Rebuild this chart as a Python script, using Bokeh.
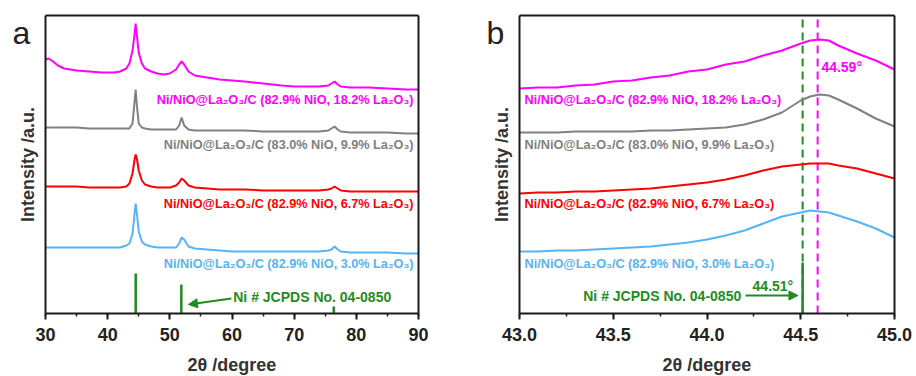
from bokeh.plotting import figure
from bokeh.layouts import row
from bokeh.models import (Label, Arrow, NormalHead, SingleIntervalTicker, FixedTicker,
                          PrintfTickFormatter, LinearAxis)
from bokeh.embed import file_html
from bokeh.resources import INLINE

FONT = "Liberation Sans"

# ---------------- data ----------------
names = [
    "Ni/NiO@La\u2082O\u2083/C (82.9% NiO, 18.2% La\u2082O\u2083)",
    "Ni/NiO@La\u2082O\u2083/C (83.0% NiO, 9.9% La\u2082O\u2083)",
    "Ni/NiO@La\u2082O\u2083/C (82.9% NiO, 6.7% La\u2082O\u2083)",
    "Ni/NiO@La\u2082O\u2083/C (82.9% NiO, 3.0% La\u2082O\u2083)",
]
colors = ["#FF00FF", "#808080", "#FF0000", "#55B4F5"]
green = "#1E8C1E"
ref_label = "Ni # JCPDS No. 04-0850"

# panel a
xa = [30, 30.5, 31, 32, 33, 35, 37, 39, 41, 42, 43, 43.5, 44, 44.3, 44.5, 44.7, 45, 45.5, 46,
      47, 48, 49, 50, 51, 51.5, 51.9, 52.3, 53, 54, 56, 58, 60, 62, 65, 68, 70, 72, 74, 75.5,
      76, 76.5, 77, 77.5, 79, 82, 85, 88, 90]
ya_magenta = [254, 255, 253, 248, 245, 243, 242, 241, 241, 242, 245, 250, 263, 278, 290, 278, 261, 250, 245,
              242, 240, 239, 240, 244, 249, 252, 249, 242, 238, 236, 234, 233, 232, 230, 228, 227, 227, 227, 228,
              230, 232, 229, 227, 226, 226, 225, 224, 224]
ya_gray = [186, 186, 186, 186, 186, 186, 185, 185, 185, 185, 185, 185, 190, 210, 224, 208, 190, 186, 185,
           184, 184, 184, 184, 184, 188, 196, 188, 184, 183, 183, 183, 183, 183, 182, 182, 182, 182, 182, 183,
           185, 187, 184, 182, 181, 181, 181, 180, 180]
ya_red = [127, 127, 127, 127, 127, 127, 126, 126, 126, 126, 127, 130, 140, 153, 159, 155, 143, 133, 129,
          127, 126, 126, 126, 128, 131, 135, 133, 128, 126, 125, 124, 124, 124, 123, 123, 123, 123, 123, 124,
          125, 127, 125, 123, 122, 122, 122, 122, 122]
ya_blue = [66, 66, 66, 66, 66, 66, 66, 66, 66, 66, 68, 70, 80, 98, 110, 100, 82, 72, 69,
           67, 66, 66, 66, 66, 70, 76, 74, 67, 65, 64, 63, 62, 62, 62, 62, 62, 62, 62, 63,
           64, 67, 64, 62, 61, 61, 61, 60, 60]
ya_series = [ya_magenta, ya_gray, ya_red, ya_blue]

ref_pos = [44.51, 51.85, 76.37]
ref_int_a = [40, 29, 7]

# panel b
xb = [43.0, 43.1, 43.2, 43.3, 43.4, 43.5, 43.6, 43.7, 43.8, 43.9, 44.0, 44.1, 44.2, 44.3, 44.4,
      44.5, 44.55, 44.6, 44.65, 44.7, 44.8, 44.9, 45.0]
yb_magenta = [225, 226, 226, 228, 229, 232, 233, 236, 238, 242, 244, 249, 252, 258, 263,
              270, 273, 274, 273, 268, 260, 253, 244]
yb_gray = [181, 181, 181, 182, 182, 182, 182, 183, 183, 184, 185, 186, 189, 194, 201,
           213, 217, 219, 218, 214, 205, 195, 187]
yb_red = [120, 121, 121, 122, 122, 123, 124, 125, 127, 129, 131, 134, 138, 143, 147,
          149, 150, 150, 150, 148, 145, 140, 135]
yb_blue = [62, 62, 63, 63, 64, 65, 66, 67, 69, 71, 74, 78, 83, 90, 97,
           101, 103, 102, 101, 98, 92, 85, 76]
yb_series = [yb_magenta, yb_gray, yb_red, yb_blue]
ref_int_b = [51]
peak_ni = 44.51
peak_sample = 44.59

label_y = [214, 169, 110, 50]

Y0, Y1 = 0, 298          # plotted intensity window
FW, FH = 458, 376         # each figure fills its half of the window
TOP, BOTTOM = 15, 63      # margins (px) around the plotted box
FRAME = "#1a1a1a"


def make_panel(x0, x1, left, right, ticker, fmt=None):
    pw = FW - left - right
    ph = FH - TOP - BOTTOM
    sx = (x1 - x0) / pw
    sy = (Y1 - Y0) / ph
    p = figure(frame_width=FW, frame_height=FH,
               x_range=(x0 - left * sx, x1 + right * sx),
               y_range=(Y0 - BOTTOM * sy, Y1 + TOP * sy),
               output_backend="svg", toolbar_location=None,
               min_border=0, x_axis_location=None, y_axis_location=None)
    p.outline_line_color = None
    p.xgrid.visible = False
    p.ygrid.visible = False
    p.background_fill_color = "white"
    p.border_fill_color = "white"

    ax = LinearAxis(fixed_location=Y0, bounds=(x0, x1), ticker=ticker)
    if fmt is not None:
        ax.formatter = fmt
    ax.axis_line_color = FRAME
    ax.axis_line_width = 2
    ax.major_tick_line_color = FRAME
    ax.major_tick_out = 6
    ax.major_tick_in = 0
    ax.major_tick_line_width = 2
    ax.minor_tick_line_color = FRAME
    ax.minor_tick_out = 3
    ax.minor_tick_in = 0
    ax.minor_tick_line_width = 1.5
    ax.major_label_text_font = FONT
    ax.major_label_text_font_style = "bold"
    ax.major_label_text_font_size = "18px"
    ax.major_label_text_color = "#222222"
    ax.major_label_standoff = 8
    ax.axis_label = "2\u03b8 /degree"
    ax.axis_label_text_font = FONT
    ax.axis_label_text_font_style = "bold"
    ax.axis_label_text_font_size = "18px"
    ax.axis_label_text_color = "#333333"
    ax.axis_label_standoff = 11
    p.add_layout(ax, "below")

    ay = LinearAxis(fixed_location=x0, bounds=(Y0, Y1), ticker=FixedTicker(ticks=[]))
    ay.axis_line_color = FRAME
    ay.axis_line_width = 2
    ay.major_tick_line_color = None
    ay.minor_tick_line_color = None
    ay.axis_label = "Intensity /a.u."
    ay.axis_label_text_font = FONT
    ay.axis_label_text_font_style = "bold"
    ay.axis_label_text_font_size = "18px"
    ay.axis_label_text_color = "#333333"
    ay.axis_label_standoff = 8
    p.add_layout(ay, "left")

    at = LinearAxis(fixed_location=Y1, bounds=(x0, x1), ticker=FixedTicker(ticks=[]),
                    axis_line_color=FRAME, axis_line_width=2,
                    major_tick_line_color=None, minor_tick_line_color=None)
    p.add_layout(at, "above")
    ar = LinearAxis(fixed_location=x1, bounds=(Y0, Y1), ticker=FixedTicker(ticks=[]),
                    axis_line_color=FRAME, axis_line_width=2,
                    major_tick_line_color=None, minor_tick_line_color=None)
    p.add_layout(ar, "right")
    return p, sx


def text(p, x, y, s, color, size, align="left", baseline="middle", style="bold"):
    p.add_layout(Label(x=x, y=y, text=s, text_align=align, text_baseline=baseline,
                       text_color=color, text_font=FONT, text_font_style=style,
                       text_font_size=size))


# ---------------- panel a ----------------
pa, sxa = make_panel(30, 90, 45, 40, SingleIntervalTicker(interval=10, num_minor_ticks=2))
for ys, c in zip(ya_series, colors):
    pa.line(xa, ys, line_color=c, line_width=2)
pa.segment(x0=ref_pos, y0=[Y0] * len(ref_pos), x1=ref_pos, y1=ref_int_a,
           line_color=green, line_width=2.5)
for name, c, yl in zip(names, colors, label_y):
    text(pa, 89.2, yl, name, c, "12.7px", align="right")
text(pa, 60.2, 17, ref_label, green, "14px")
pa.add_layout(Arrow(end=NormalHead(size=9, fill_color=green, line_color=green),
                    x_start=59.9, y_start=15, x_end=53.0, y_end=9,
                    line_color=green, line_width=2))
text(pa, 30 - 33 * sxa, 281, "a", "#222222", "32px", baseline="alphabetic", style="normal")

# ---------------- panel b ----------------
pb, sxb = make_panel(43.0, 45.0, 61, 22, SingleIntervalTicker(interval=0.5, num_minor_ticks=2),
                     PrintfTickFormatter(format="%.1f"))
pb.segment(x0=[peak_ni, peak_sample], y0=[Y0, Y0], x1=[peak_ni, peak_sample], y1=[Y1, Y1],
           line_color=[green, "#FF00FF"], line_width=2, line_dash="8 5")
for ys, c in zip(yb_series, colors):
    pb.line(xb, ys, line_color=c, line_width=2)
pb.segment(x0=[peak_ni], y0=[Y0], x1=[peak_ni], y1=ref_int_b, line_color=green, line_width=2.5)
for name, c, yl in zip(names, colors, label_y):
    text(pb, 43.027, yl, name, c, "12.7px")
text(pb, 43.34, 18, ref_label, green, "14px")
pb.add_layout(Arrow(end=NormalHead(size=9, fill_color=green, line_color=green),
                    x_start=44.205, y_start=18, x_end=44.485, y_end=18,
                    line_color=green, line_width=2))
text(pb, 44.243, 28, "%.2f\u00b0" % peak_ni, green, "14px")
text(pb, 44.61, 247, "%.2f\u00b0" % peak_sample, "#FF00FF", "14px")
text(pb, 43.0 - 33 * sxb, 281, "b", "#222222", "32px", baseline="alphabetic", style="normal")

layout = row(pa, pb)
open("out.html", "w").write(file_html(layout, INLINE))
